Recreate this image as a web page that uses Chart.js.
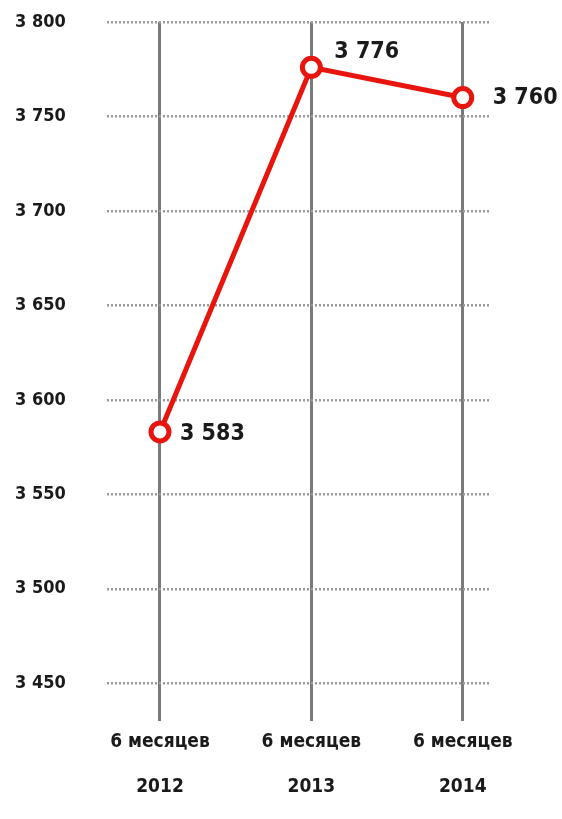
<!DOCTYPE html>
<html>
<head>
<meta charset="utf-8">
<script src="https://cdn.jsdelivr.net/npm/chart.js@4/dist/chart.umd.min.js"></script>
<style>
  html, body { margin: 0; padding: 0; background: #fff; }
  #wrap { width: 562px; height: 819px; position: relative; }
</style>
</head>
<body>
<div id="wrap"><canvas id="chart"></canvas></div>
<script>
// Данные
const categories = [['6 месяцев', '2012'], ['6 месяцев', '2013'], ['6 месяцев', '2014']];
const values = [3583, 3776, 3760];
const yTicks = [3450, 3500, 3550, 3600, 3650, 3700, 3750, 3800];

const RED = '#e8150e';
const narrow = '"Liberation Sans Narrow", "DejaVu Sans Condensed", "Open Sans", sans-serif';

// Подписи значений рядом с точками
const labelOffsets = [[20, 2], [23, -15], [30, 0]];
const valueLabels = {
    id: 'valueLabels',
    afterDatasetsDraw(chart) {
        const ctx = chart.ctx;
        const meta = chart.getDatasetMeta(0);
        ctx.save();
        ctx.font = 'bold 23px ' + narrow;
        ctx.fillStyle = '#1a1a1a';
        ctx.textAlign = 'left';
        ctx.textBaseline = 'middle';
        meta.data.forEach((pt, i) => {
            const txt = String(values[i]).replace(/^(\d)(\d{3})$/, '$1 $2');
            ctx.fillText(txt, pt.x + labelOffsets[i][0], pt.y + labelOffsets[i][1]);
        });
        ctx.restore();
    }
};

new Chart(document.getElementById('chart'), {
    type: 'line',
    data: {
        datasets: [{
            data: values.map((v, i) => ({ x: i, y: v })),
            borderColor: RED,
            borderWidth: 5,
            pointRadius: 9,
            pointBorderWidth: 5,
            pointBorderColor: RED,
            pointBackgroundColor: '#fff',
            tension: 0
        }]
    },
    options: {
        responsive: true,
        maintainAspectRatio: false,
        animation: false,
        layout: { padding: { top: 22, left: 15, right: 72, bottom: 0 } },
        plugins: { legend: { display: false }, tooltip: { enabled: false } },
        scales: {
            x: {
                type: 'linear',
                min: -0.35,
                max: 2.18,
                afterBuildTicks: s => { s.ticks = categories.map((c, i) => ({ value: i })); },
                afterFit: s => { s.height = 98; },
                grid: { color: '#7a7a7a', lineWidth: 3, drawTicks: false },
                border: { display: false },
                ticks: {
                    padding: -1,
                    color: '#1a1a1a',
                    font: { family: narrow, size: 19, weight: 'bold', lineHeight: 2.35 },
                    callback: v => categories[v]
                }
            },
            y: {
                min: 3430,
                max: 3800,
                afterBuildTicks: s => { s.ticks = yTicks.map(v => ({ value: v })); },
                afterFit: s => { s.width = 92; },
                grid: { color: '#9a9a9a', lineWidth: 2.5, drawTicks: false },
                border: { display: false, dash: [2, 2] },
                ticks: {
                    crossAlign: 'far',
                    color: '#1a1a1a',
                    font: { family: narrow, size: 18, weight: 'bold' },
                    callback: v => String(v).replace(/^(\d)(\d{3})$/, '$1 $2')
                }
            }
        }
    },
    plugins: [valueLabels]
});
</script>
</body>
</html>
